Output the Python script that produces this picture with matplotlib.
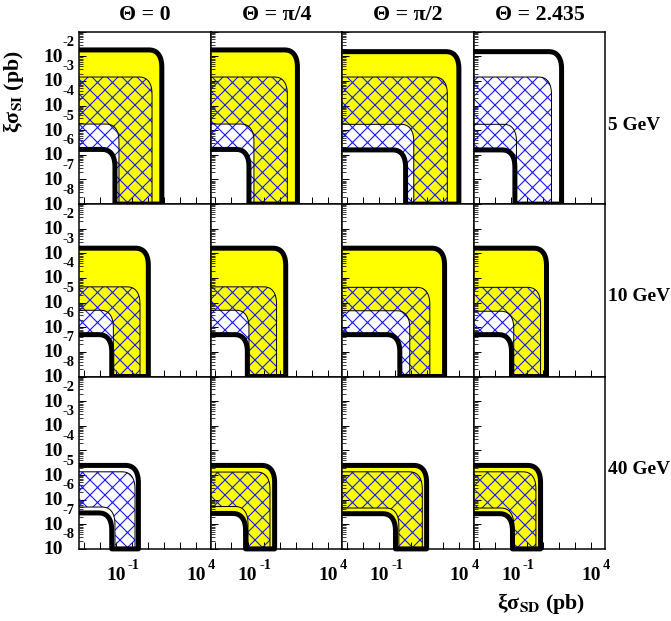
import numpy as np
import matplotlib
matplotlib.use("Agg")
import matplotlib.pyplot as plt
from matplotlib.patches import Polygon
from matplotlib.ticker import LogLocator, NullLocator

DPI = 90
P = 72.0 / DPI  # points per pixel

plt.rcParams['font.family'] = ['Liberation Serif', 'DejaVu Serif']
plt.rcParams['mathtext.fontset'] = 'stix'
plt.rcParams['hatch.linewidth'] = 0.9

theta_labels = ["Θ = 0", "Θ = π/4", "Θ = π/2", "Θ = 2.435"]
mass_labels = ["5 GeV", "10 GeV", "40 GeV"]

# Contours in log10 units: *_si = level of the flat top (log10 xi*sigma_SI / pb),
# *_sd = position of the vertical edge (log10 xi*sigma_SD / pb).
# Rows: 5, 10, 40 GeV; columns: Theta = 0, pi/4, pi/2, 2.435.
outer_thick_si = [[-1.74, -1.74, -1.81, -1.81],
                  [-2.79, -2.79, -2.79, -2.79],
                  [-4.61, -4.61, -4.61, -4.61]]
outer_thick_sd = [[1.86, 2.11, 3.97, 2.17],
                  [1.02, 1.38, 3.08, 1.23],
                  [0.40, 0.69, 1.96, 0.86]]
outer_thin_si = [[-2.84, -2.84, -2.84, -2.84],
                 [-4.36, -4.36, -4.38, -4.38],
                 [-4.87, -4.88, -4.87, -4.87]]
outer_thin_sd = [[1.25, 1.48, 3.25, 1.54],
                 [0.50, 0.81, 2.16, 0.86],
                 [0.19, 0.40, 1.69, 0.57]]
inner_thin_si = [[-4.75, -4.75, -4.76, -4.76],
                 [-5.31, -5.31, -5.33, -5.35],
                 [-6.30, -6.28, -6.34, -6.34]]
inner_thin_sd = [[-0.81, -0.60, 1.16, -0.64],
                 [-1.16, -0.91, 0.91, -0.81],
                 [-1.06, -0.97, 0.23, -0.81]]
inner_thick_si = [[-5.78, -5.78, -5.80, -5.80],
                  [-6.30, -6.30, -6.30, -6.30],
                  [-6.54, -6.56, -6.57, -6.57]]
inner_thick_sd = [[-1.06, -0.91, 0.65, -0.74],
                  [-1.26, -1.01, 0.29, -0.95],
                  [-1.26, -1.12, 0.02, -0.89]]

# Which inner contour closes the yellow band and the hatched band in each panel
yellow_inner = [["thin", "thin", "thin", None],
                ["thin", "thin", "thin", "thin"],
                [None, "thick", "thick", "thick"]]
hatch_inner = [["thick"] * 4, ["thick"] * 4, ["thin"] * 4]

XLIM = (-3.3, 4.9)
YLIM = (-8.0, -1.0)
x_label_exps = [-1, 4]
y_label_exps = [-2, -3, -4, -5, -6, -7, -8]

W, H = 671, 621
fig = plt.figure(figsize=(W / DPI, H / DPI), dpi=DPI)

left_px, top_px = 79.0, 31.7
col_w, row_h = 131.6, 172.4


def contour(log_si, log_sd, x0, y0, rx=0.85, ry=0.75, n=30):
    """Flat top at log_si, rounded corner, vertical edge at log_sd down to y0."""
    t = np.linspace(0, np.pi / 2, n)
    cx, cy = log_sd - rx, log_si - ry
    # slightly squarer than a circle, like a chamfered corner
    xs = np.concatenate([[x0], cx + rx * np.sin(t) ** 0.8, [log_sd]])
    ys = np.concatenate([[log_si], cy + ry * np.cos(t) ** 0.8, [y0]])
    return xs, ys


def band(outer, inner, x0, y0):
    xo, yo = contour(*outer, x0, y0)
    xi, yi = contour(*inner, x0, y0)
    xs = np.concatenate([xo, xi[::-1]])
    ys = np.concatenate([yo, yi[::-1]])
    return np.column_stack([10.0 ** xs, 10.0 ** ys])


for r in range(3):
    for c in range(4):
        ax = fig.add_axes([(left_px + c * col_w) / W,
                           1 - (top_px + (r + 1) * row_h) / H,
                           col_w / W, row_h / H])
        ax.set_xscale('log')
        ax.set_yscale('log')
        ax.set_xlim(10 ** XLIM[0], 10 ** XLIM[1])
        ax.set_ylim(10 ** YLIM[0], 10 ** YLIM[1])

        A = (outer_thick_si[r][c], outer_thick_sd[r][c])
        B = (outer_thin_si[r][c], outer_thin_sd[r][c])
        C = (inner_thin_si[r][c], inner_thin_sd[r][c])
        D = (inner_thick_si[r][c], inner_thick_sd[r][c])
        ext_x0, ext_y0 = XLIM[0] - 1.0, YLIM[0] - 1.0

        yi = yellow_inner[r][c]
        if yi is not None:
            inner = C if yi == "thin" else D
            ax.add_patch(Polygon(band(A, inner, ext_x0, ext_y0), closed=True,
                                 facecolor='#ffff00', edgecolor='none', zorder=1))
        hinner = D if hatch_inner[r][c] == "thick" else C
        ax.add_patch(Polygon(band(B, hinner, ext_x0, ext_y0), closed=True,
                             fill=False, hatch='xx', edgecolor='#1a1aff',
                             linewidth=0, zorder=2))

        for cont in (B, C):
            xs, ys = contour(*cont, XLIM[0], ext_y0)
            ax.plot(10.0 ** xs, 10.0 ** ys, color='black', lw=0.8, zorder=3)

        # thick closed outline along the axis bottom
        outline = band(A, D, XLIM[0], YLIM[0])
        ax.plot(outline[:, 0], outline[:, 1], color='black', lw=4.0,
                solid_joinstyle='round', solid_capstyle='butt',
                zorder=4, clip_on=False)

        for s in ax.spines.values():
            s.set_linewidth(1.2)
            s.set_zorder(5)
        ax.xaxis.set_major_locator(LogLocator(base=10, numticks=20))
        ax.xaxis.set_minor_locator(NullLocator())
        ax.yaxis.set_major_locator(LogLocator(base=10, numticks=20))
        ax.yaxis.set_minor_locator(LogLocator(base=10, subs=np.arange(2, 10), numticks=20))
        ax.tick_params(which='major', direction='in', length=7 * P, width=0.8,
                       top=False, right=False, labelleft=False, labelbottom=False)
        ax.tick_params(which='minor', direction='in', length=3.5 * P, width=0.6,
                       top=False, right=False)

        if c == 0:
            for e in y_label_exps:
                ax.annotate("10", xy=(0, 10.0 ** e), xycoords=('axes fraction', 'data'),
                            xytext=(-16 * P, -1 * P), textcoords='offset points',
                            ha='right', va='center', fontsize=15.5, fontweight='bold',
                            annotation_clip=False)
                ax.annotate(f"-{abs(e)}", xy=(0, 10.0 ** e),
                            xycoords=('axes fraction', 'data'),
                            xytext=(-16.5 * P, 14 * P), textcoords='offset points',
                            ha='left', va='center', fontsize=11.5, fontweight='bold',
                            annotation_clip=False)
        if r == 2:
            for e in x_label_exps:
                ax.annotate("10", xy=(10.0 ** e, 0), xycoords=('data', 'axes fraction'),
                            xytext=(0, -27 * P), textcoords='offset points',
                            ha='center', va='center', fontsize=15.5, fontweight='bold',
                            annotation_clip=False)
                ax.annotate(f"-{abs(e)}" if e < 0 else f"{e}", xy=(10.0 ** e, 0),
                            xycoords=('data', 'axes fraction'),
                            xytext=(12 * P, -17 * P), textcoords='offset points',
                            ha='left', va='center', fontsize=11.5, fontweight='bold',
                            annotation_clip=False)
        if r == 0:
            ax.text(0.5, 1 + 17.0 / row_h, theta_labels[c], transform=ax.transAxes,
                    ha='center', va='center', fontsize=17.5, fontweight='bold')

row_label_y = [126, 296.7, 470]
for lbl, y in zip(mass_labels, row_label_y):
    fig.text(608 / W, 1 - y / H, lbl, ha='left', va='center',
             fontsize=15.5, fontweight='bold')

fig.text(13 / W, 1 - 92 / H, "ξσ$_{\\mathbf{SI}}$ (pb)", rotation=90,
         ha='center', va='center', fontsize=17.5, fontweight='bold')
fig.text(541 / W, 1 - 603 / H, "ξσ$_{\\mathbf{SD}}$ (pb)",
         ha='center', va='center', fontsize=17.5, fontweight='bold')

fig.savefig("out.png", dpi=DPI)
